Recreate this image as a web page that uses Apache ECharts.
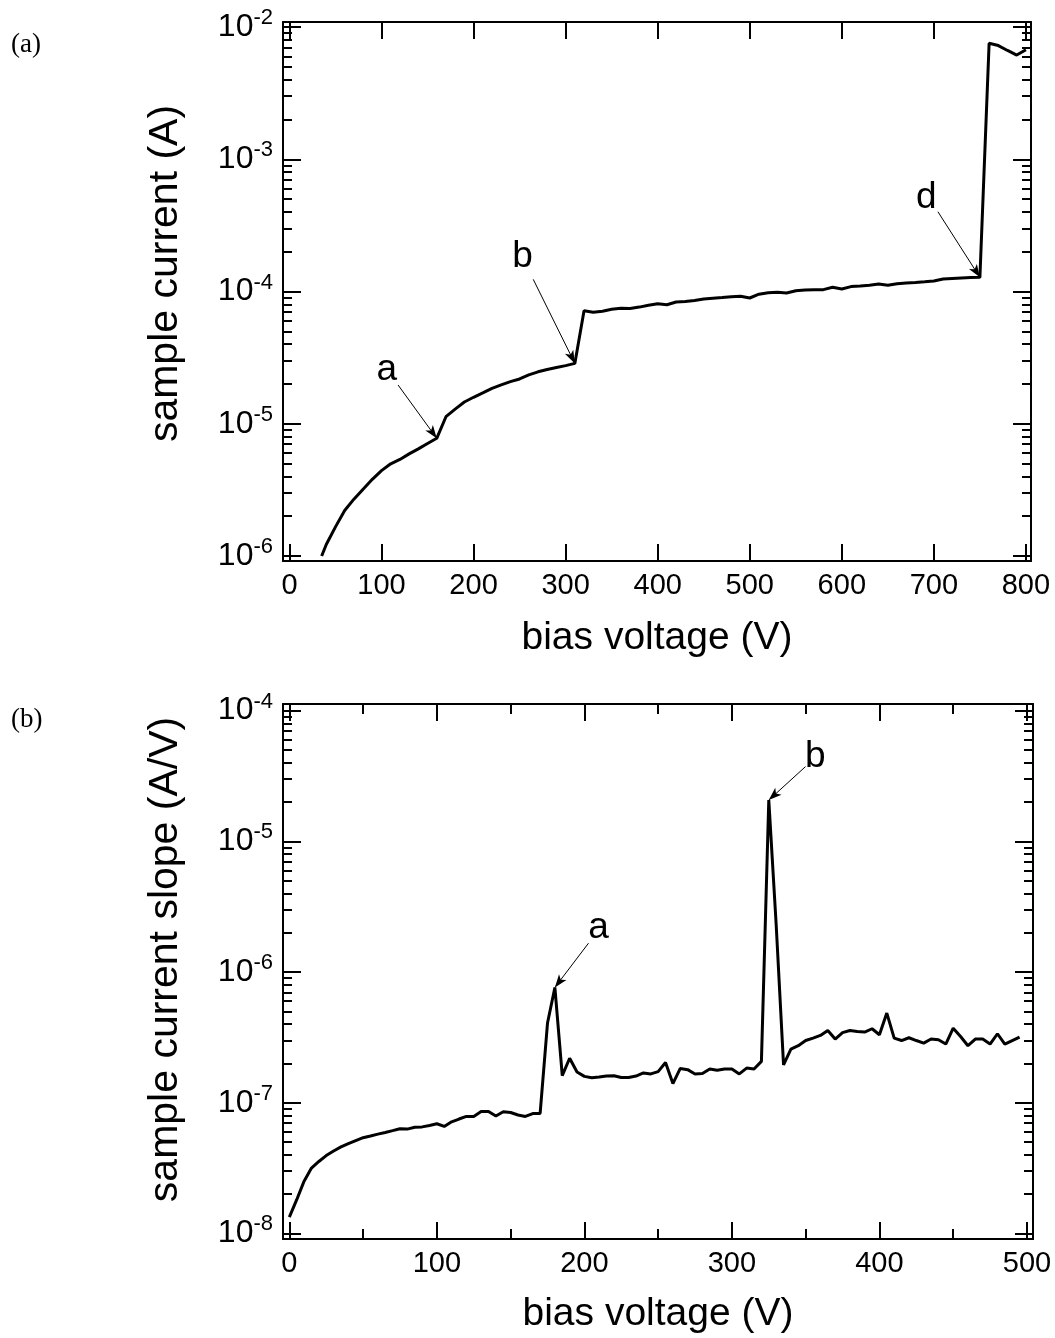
<!DOCTYPE html>
<html><head><meta charset="utf-8">
<script src="https://cdn.jsdelivr.net/npm/echarts@6/dist/echarts.min.js"></script>
<style>html,body{margin:0;padding:0;background:#fff}#c{width:1055px;height:1338px}</style>
</head><body><div id="c"></div>
<script>
// ---------- data: panel (a) ----------
const voltageA = [35,40,50,60,70,80,90,100,110,120,130,140,150,160,
  170,180,190,200,210,220,230,240,250,260,270,280,290,300,310,
  320,330,340,350,360,370,380,390,400,410,420,430,440,450,460,470,480,490,500,
  510,520,530,540,550,560,570,580,590,600,610,620,630,640,650,660,670,680,690,700,
  710,720,730,740,750,760,770,780,790,800];
const currentA = [1.00e-6,1.22e-6,1.66e-6,2.21e-6,2.69e-6,3.20e-6,3.80e-6,4.42e-6,4.98e-6,5.37e-6,5.92e-6,6.46e-6,7.08e-6,7.76e-6,
  1.13e-5,1.29e-5,1.46e-5,1.585e-5,1.71e-5,1.85e-5,1.97e-5,2.08e-5,2.18e-5,2.34e-5,2.47e-5,2.57e-5,2.66e-5,2.75e-5,2.86e-5,
  7.16e-5,6.97e-5,7.08e-5,7.33e-5,7.46e-5,7.45e-5,7.62e-5,7.87e-5,8.07e-5,7.94e-5,8.32e-5,8.39e-5,8.55e-5,8.77e-5,8.89e-5,8.99e-5,9.12e-5,9.20e-5,8.93e-5,
  9.55e-5,9.77e-5,9.86e-5,9.75e-5,1.012e-4,1.026e-4,1.033e-4,1.033e-4,1.076e-4,1.045e-4,1.089e-4,1.102e-4,1.117e-4,1.140e-4,1.117e-4,1.146e-4,1.159e-4,1.172e-4,1.186e-4,1.202e-4,
  1.245e-4,1.256e-4,1.265e-4,1.274e-4,1.279e-4,7.53e-3,7.24e-3,6.65e-3,6.14e-3,6.73e-3];

// ---------- data: panel (b) ----------
const voltageB = [0,5,10,15,20,25,30,35,40,45,50,55,60,65,70,75,80,85,90,95,
  100,105,110,115,120,125,130,135,140,145,150,155,160,165,170,175,180,185,190,195,
  200,205,210,215,220,225,230,235,240,245,250,255,260,265,270,275,280,285,290,295,
  300,305,310,315,320,325,330,335,340,345,350,355,360,365,370,375,380,385,390,395,
  400,405,410,415,420,425,430,435,440,445,450,455,460,465,470,475,480,485,490,495];
const slopeB = [1.33e-8,1.81e-8,2.51e-8,3.16e-8,3.55e-8,3.94e-8,4.27e-8,4.59e-8,4.86e-8,5.13e-8,
  5.40e-8,5.56e-8,5.75e-8,5.92e-8,6.11e-8,6.32e-8,6.28e-8,6.49e-8,6.53e-8,6.70e-8,
  6.90e-8,6.58e-8,7.14e-8,7.50e-8,7.85e-8,7.85e-8,8.55e-8,8.57e-8,7.91e-8,8.53e-8,
  8.41e-8,8.05e-8,7.85e-8,8.26e-8,8.28e-8,4.07e-7,7.62e-7,1.61e-7,2.19e-7,1.72e-7,
  1.59e-7,1.55e-7,1.57e-7,1.60e-7,1.61e-7,1.56e-7,1.56e-7,1.60e-7,1.69e-7,1.66e-7,
  1.73e-7,2.03e-7,1.40e-7,1.83e-7,1.79e-7,1.66e-7,1.67e-7,1.81e-7,1.77e-7,1.81e-7,
  1.81e-7,1.66e-7,1.84e-7,1.81e-7,2.07e-7,2.07e-5,2.31e-6,1.95e-7,2.57e-7,2.73e-7,
  2.99e-7,3.12e-7,3.27e-7,3.57e-7,3.07e-7,3.44e-7,3.57e-7,3.51e-7,3.47e-7,3.68e-7,
  3.31e-7,4.85e-7,3.12e-7,2.99e-7,3.14e-7,2.99e-7,2.86e-7,3.07e-7,3.03e-7,2.81e-7,
  3.72e-7,3.21e-7,2.73e-7,3.07e-7,3.07e-7,2.81e-7,3.37e-7,2.81e-7,2.99e-7,3.18e-7];

// ---------- ticks ----------
const xTicksA = [0,100,200,300,400,500,600,700,800];
const xTicksB = [0,100,200,300,400,500];
const xMinorTicksB = [50,150,250,350,450];
const decadesA = [-6,-5,-4,-3,-2];
const decadesB = [-8,-7,-6,-5,-4];

// ---------- annotations (tip anchored to a data voltage) ----------
const notesA = [
  {text:'a', tipV:160, tail:[118, -4.707], label:[105.7, -4.590]},
  {text:'b', tipV:310, tail:[264.8, -3.908], label:[253.3, -3.737]},
  {text:'d', tipV:750, tail:[704.4, -3.397], label:[691.8, -3.290]}
];
const notesB = [
  {text:'a', tipV:180, tail:[202.8, -5.779], label:[209.6, -5.665]},
  {text:'b', tipV:325, tail:[349.9, -4.428], label:[356.6, -4.352]}
];

const FONT = 'Liberation Sans, Arial, Helvetica, sans-serif';
const XFS = 29, YFS = 32, SUPFS = 22, TITLEX = 39, TITLEY = 41;
const L10 = Math.log10;

function minorFrom(decades, lo, hi){
  const out = [];
  for (let n = decades[0]-1; n <= decades[decades.length-1]; n++)
    for (let k = 2; k <= 9; k++){ const v = n + L10(k); if (v > lo && v < hi) out.push(v); }
  return out;
}

const axisLineStyle = {color:'#000', width:2};
function xAxes(grid, min, max, major, minor, name, nameGap){
  const base = {gridIndex:grid, type:'value', min:min, max:max, splitLine:{show:false}};
  const arr = [];
  arr.push(Object.assign({}, base, {position:'bottom',
    axisLine:{show:true, onZero:false, lineStyle:axisLineStyle},
    axisTick:{show:true, inside:true, length:17, customValues:major, lineStyle:{color:'#000', width:2}},
    axisLabel:{show:true, customValues:major, fontSize:XFS, fontFamily:FONT, color:'#000', margin:10},
    name:name, nameLocation:'middle', nameGap:nameGap,
    nameTextStyle:{fontSize:TITLEX, fontFamily:FONT, color:'#000'}}));
  arr.push(Object.assign({}, base, {position:'top',
    axisLine:{show:true, onZero:false, lineStyle:axisLineStyle},
    axisTick:{show:true, inside:true, length:17, customValues:major, lineStyle:{color:'#000', width:2}},
    axisLabel:{show:false}}));
  if (minor){
    ['bottom','top'].forEach(p => arr.push(Object.assign({}, base, {position:p,
      axisLine:{show:false, onZero:false},
      axisTick:{show:true, inside:true, length:10, customValues:minor, lineStyle:{color:'#000', width:2}},
      axisLabel:{show:false}})));
  }
  return arr;
}
function yAxes(grid, min, max, decades, name, nameGap, shiftUp){
  const minor = minorFrom(decades, min, max);
  const base = {gridIndex:grid, type:'value', min:min, max:max, splitLine:{show:false}};
  const arr = [];
  arr.push(Object.assign({}, base, {position:'left',
    axisLine:{show:true, onZero:false, lineStyle:axisLineStyle},
    axisTick:{show:true, inside:true, length:18, customValues:decades, lineStyle:{color:'#000', width:2}},
    axisLabel:{show:true, customValues:decades, margin:10, color:'#000', fontSize:YFS, fontFamily:FONT,
      formatter: v => '10{s|' + Math.round(v) + '}',
      rich:{s:{fontSize:SUPFS, fontFamily:FONT, color:'#000', padding:[0,0,18,0]}}},
    name:name, nameLocation:'middle', nameGap:nameGap,
    nameTextStyle:{fontSize:TITLEY, fontFamily:FONT, color:'#000', padding:[0,0,0,shiftUp*2]}}));
  arr.push(Object.assign({}, base, {position:'left',
    axisLine:{show:false, onZero:false},
    axisTick:{show:true, inside:true, length:9, customValues:minor, lineStyle:{color:'#000', width:2}},
    axisLabel:{show:false}}));
  arr.push(Object.assign({}, base, {position:'right',
    axisLine:{show:true, onZero:false, lineStyle:axisLineStyle},
    axisTick:{show:true, inside:true, length:18, customValues:decades, lineStyle:{color:'#000', width:2}},
    axisLabel:{show:false}}));
  arr.push(Object.assign({}, base, {position:'right',
    axisLine:{show:false, onZero:false},
    axisTick:{show:true, inside:true, length:9, customValues:minor, lineStyle:{color:'#000', width:2}},
    axisLabel:{show:false}}));
  return arr;
}

const xA = xAxes(0, -7, 805.5, xTicksA, null, 'bias voltage (V)', 58);
const xB = xAxes(1, -4.3, 504.1, xTicksB, xMinorTicksB, 'bias voltage (V)', 56);
const yA = yAxes(0, -6.038, -1.962, decadesA, 'sample current (A)', 97, 18);
const yB = yAxes(1, -8.043, -3.949, decadesB, 'sample current slope (A/V)', 97, 12);

function marks(volts, vals, notes){
  return {
    markLine:{silent:true, symbol:['none','arrow'], symbolSize:[7,13], animation:false,
      label:{show:false}, lineStyle:{color:'#000', width:1, type:'solid'},
      data: notes.map(n => { const i = volts.indexOf(n.tipV);
        return [{coord:n.tail, symbol:'none'}, {coord:[volts[i], L10(vals[i])], symbol:'arrow'}]; })},
    markPoint:{silent:true, symbol:'circle', symbolSize:1, itemStyle:{color:'rgba(0,0,0,0)'}, animation:false,
      label:{show:true, position:'inside', formatter: p => p.name, fontSize:37, fontFamily:FONT, color:'#000'},
      data: notes.map(n => ({name:n.text, coord:n.label}))}
  };
}

const option = {
  backgroundColor:'#fff',
  animation:false,
  grid:[
    {left:283, top:22, width:748, height:539},
    {left:283, top:704, width:750, height:535}
  ],
  xAxis: xA.concat(xB),
  yAxis: yA.concat(yB),
  graphic:[
    {type:'text', left:11, top:31, style:{text:'(a)', font:'27px "Liberation Serif", "Times New Roman", serif', fill:'#000'}},
    {type:'text', left:11, top:706, style:{text:'(b)', font:'27px "Liberation Serif", "Times New Roman", serif', fill:'#000'}}
  ],
  series:[
    Object.assign({type:'line', xAxisIndex:0, yAxisIndex:0, showSymbol:false, symbol:'none',
      lineStyle:{color:'#000', width:3}, data: voltageA.map((v,i)=>[v, L10(currentA[i])])},
      marks(voltageA, currentA, notesA)),
    Object.assign({type:'line', xAxisIndex:2, yAxisIndex:4, showSymbol:false, symbol:'none',
      lineStyle:{color:'#000', width:3}, data: voltageB.map((v,i)=>[v, L10(slopeB[i])])},
      marks(voltageB, slopeB, notesB))
  ]
};
const chart = echarts.init(document.getElementById('c'), null, {renderer:'canvas'});
chart.setOption(option);
</script></body></html>
